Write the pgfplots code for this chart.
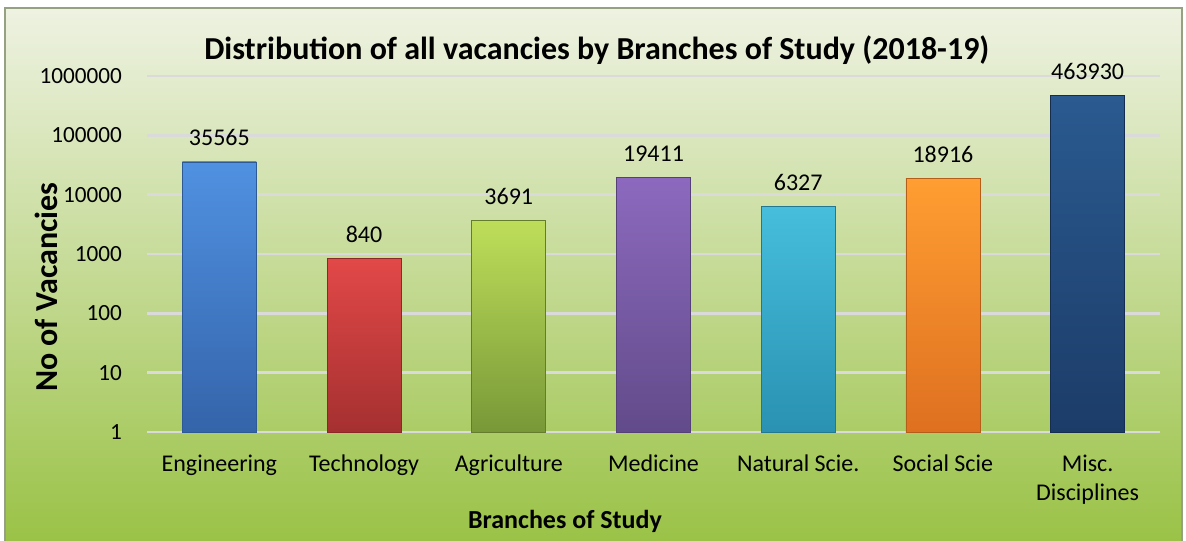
\documentclass[border=0pt]{standalone}
\usepackage{pgfplots}
\pgfplotsset{compat=1.18}
\usepackage{fontspec}
\setmainfont{Carlito}
\definecolor{bgtop}{RGB}{238,242,226}
\definecolor{bgmid}{RGB}{196,218,140}
\definecolor{bgbot}{RGB}{154,194,70}
\definecolor{framec}{RGB}{150,160,130}
\definecolor{gridc}{RGB}{218,218,218}
\begin{document}
\begin{tikzpicture}[x=1pt,y=1pt]
\useasboundingbox (0,0) rectangle (593,270);
\shade[top color=bgtop, middle color=bgmid, bottom color=bgbot] (2.5,-2) rectangle (591,266);
\draw[framec, line width=0.9pt] (2.5,-2) rectangle (591,266);
\begin{axis}[
  at={(73.5pt,54pt)}, anchor=south west,
  scale only axis, width=506.5pt, height=178pt,
  ymode=log, ymin=1, ymax=1000000,
  xmin=-0.5, xmax=6.5,
  clip=false,
  axis line style={draw=none},
  tick style={draw=none},
  ymajorgrids, grid style={gridc, line width=1.2pt},
  ytick={1,10,100,1000,10000,100000,1000000},
  yticklabels={1,10,100,1000,10000,100000,1000000},
  yticklabel style={font=\fontsize{11.6}{14}\selectfont, xshift=-9pt},
  xtick={0,1,2,3,4,5,6},
  xticklabels={Engineering,Technology,Agriculture,Medicine,Natural Scie.,Social Scie,{Misc.\\Disciplines}},
  xticklabel style={font=\fontsize{12}{14.5}\selectfont, align=center, anchor=north, yshift=-8pt},
  /pgf/number format/assume math mode=true,
  point meta=explicit symbolic,
  nodes near coords={\pgfplotspointmeta},
  nodes near coords style={font=\fontsize{12}{14}\selectfont, anchor=south, yshift=4.5pt},
  bar width=37pt,
]
\addplot[ybar, bar shift=0pt, draw={rgb,255:red,45;green,90;blue,150}, top color={rgb,255:red,80;green,145;blue,225}, bottom color={rgb,255:red,52;green,100;blue,170}] coordinates {(0,35565) [35565]};
\addplot[ybar, bar shift=0pt, draw={rgb,255:red,140;green,40;blue,40}, top color={rgb,255:red,226;green,72;blue,72}, bottom color={rgb,255:red,165;green,48;blue,48}] coordinates {(1,840) [840]};
\addplot[ybar, bar shift=0pt, draw={rgb,255:red,100;green,125;blue,45}, top color={rgb,255:red,190;green,222;blue,90}, bottom color={rgb,255:red,120;green,152;blue,56}] coordinates {(2,3691) [3691]};
\addplot[ybar, bar shift=0pt, draw={rgb,255:red,85;green,65;blue,120}, top color={rgb,255:red,140;green,105;blue,190}, bottom color={rgb,255:red,98;green,75;blue,138}] coordinates {(3,19411) [19411]};
\addplot[ybar, bar shift=0pt, draw={rgb,255:red,35;green,120;blue,145}, top color={rgb,255:red,70;green,190;blue,220}, bottom color={rgb,255:red,42;green,145;blue,178}] coordinates {(4,6327) [6327]};
\addplot[ybar, bar shift=0pt, draw={rgb,255:red,180;green,95;blue,25}, top color={rgb,255:red,255;green,158;blue,50}, bottom color={rgb,255:red,222;green,112;blue,32}] coordinates {(5,18916) [18916]};
\addplot[ybar, bar shift=0pt, draw={rgb,255:red,20;green,45;blue,80}, top color={rgb,255:red,42;green,90;blue,144}, bottom color={rgb,255:red,28;green,60;blue,104}] coordinates {(6,463930) [463930]};
\node[font=\bfseries\fontsize{16}{18}\selectfont] at (axis description cs:0.444,1.073) {Distribution of all vacancies by Branches of Study (2018-19)};
\node[font=\bfseries\fontsize{16}{18}\selectfont, rotate=90] at (axis description cs:-0.0997,0.407) {No of Vacancies};
\node[font=\bfseries\fontsize{13}{16}\selectfont] at (axis description cs:0.4126,-0.252) {Branches of Study};
\end{axis}
\end{tikzpicture}
\end{document}
